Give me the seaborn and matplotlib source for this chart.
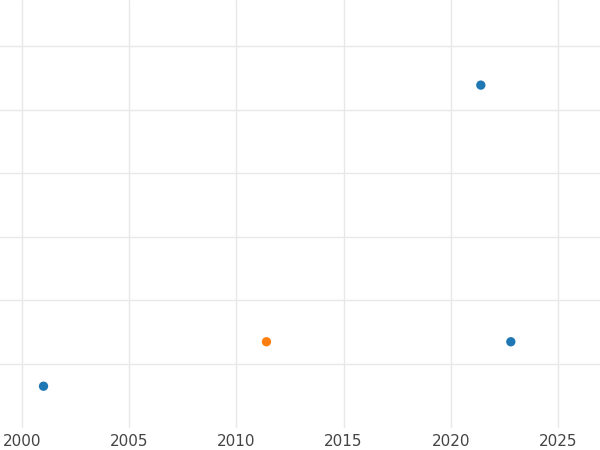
import matplotlib
matplotlib.use("Agg")
import matplotlib.pyplot as plt
import seaborn as sns
import pandas as pd

years = [2001.0, 2011.4, 2021.4, 2022.8]
values = [0.65, 1.35, 5.39, 1.35]
groups = ["a", "b", "a", "a"]

df = pd.DataFrame({"year": years, "value": values, "group": groups})

sns.set_style("white")
fig = plt.figure(figsize=(6, 4.5), dpi=100)
ax = fig.add_axes([0, 0.05, 1, 0.95])
sns.scatterplot(data=df, x="year", y="value", hue="group",
                palette={"a": "#1f77b4", "b": "#ff7f0e"}, s=45,
                edgecolor="none", legend=False, ax=ax)

ax.set_xlim(1998.97, 2026.96)
ax.set_ylim(0, 6.73)
ax.set_xticks([2000, 2005, 2010, 2015, 2020, 2025])
ax.set_yticks([1, 2, 3, 4, 5, 6])
ax.grid(True, color="#e8e8e8", linewidth=1)
ax.tick_params(axis="y", length=0, labelleft=False)
ax.tick_params(axis="x", length=0, labelsize=11, labelcolor="#444444", pad=5)
for s in ax.spines.values():
    s.set_visible(False)
ax.set_xlabel("")
ax.set_ylabel("")
fig.savefig("out.png", dpi=100)
